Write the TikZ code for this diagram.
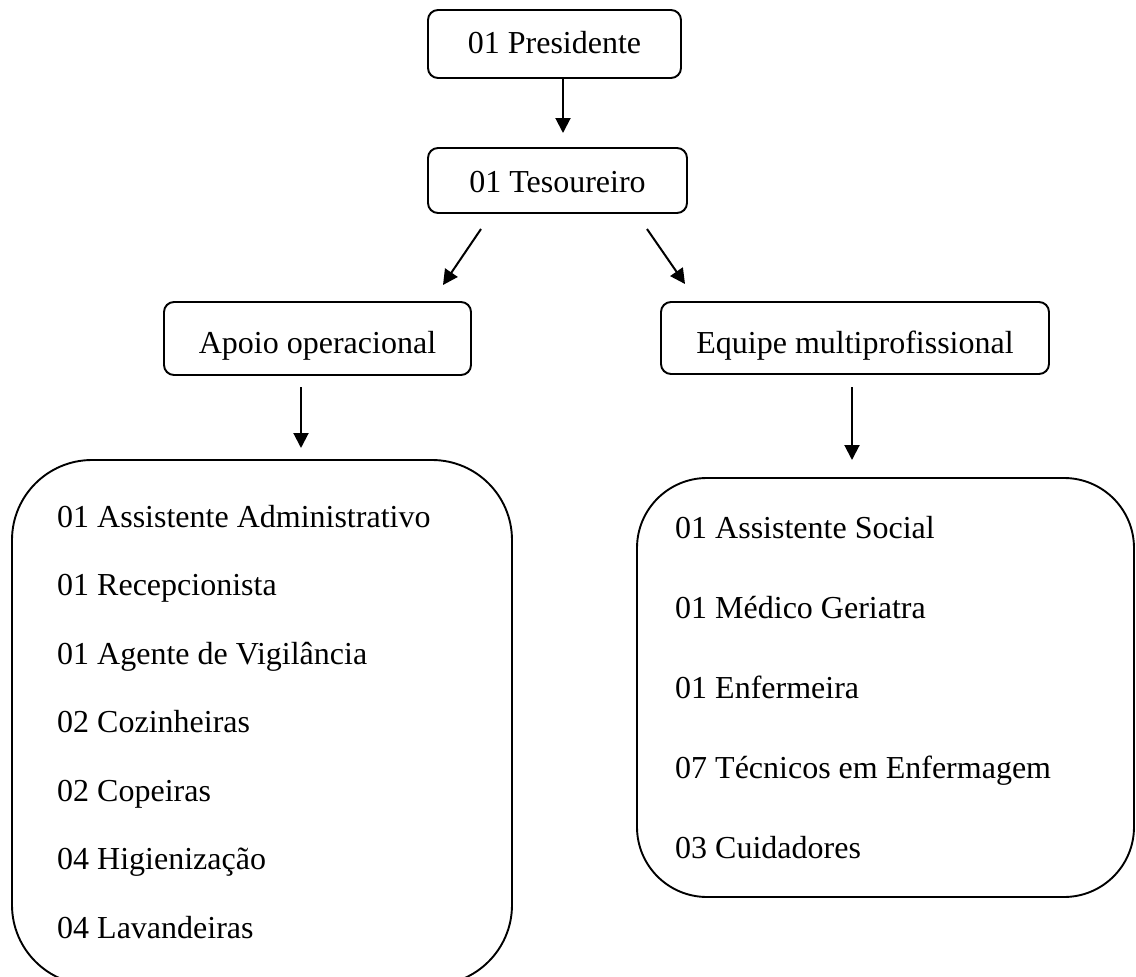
\documentclass[tikz,border=0pt]{standalone}
\usepackage{fontspec}
\setmainfont{Liberation Serif}
\usetikzlibrary{arrows.meta}
\begin{document}
\begin{tikzpicture}[x=1pt,y=-1pt,
  every node/.style={font=\fontsize{32}{38}\selectfont, inner sep=0pt},
  smallbox/.style={draw, line width=1.9pt, rounded corners=10pt},
  bigbox/.style={draw, line width=1.9pt},
  label/.style={anchor=base},
  item/.style={anchor=base west},
  conn/.style={line width=2pt, -{Triangle[length=15pt,width=15pt]}}]
\useasboundingbox (0,0) rectangle (1136,977);
\fill[white] (0,0) rectangle (1136,977);

% small boxes
\node[smallbox, minimum width=253pt, minimum height=68pt] (pres) at (554.5,44) {};
\node[label] (presT) at (554.5,53) {01 Presidente};
\node[smallbox, minimum width=259pt, minimum height=65pt] (tes) at (557.5,180.5) {};
\node[label] (tesT) at (557.5,192) {01 Tesoureiro};
\node[smallbox, minimum width=307pt, minimum height=73pt] (apoio) at (317.5,338.5) {};
\node[label] (apoioT) at (317.5,353) {Apoio operacional};
\node[smallbox, minimum width=388pt, minimum height=72pt] (equipe) at (855,338) {};
\node[label] (equipeT) at (855,353) {Equipe multiprofissional};

% big boxes
\node[bigbox, rounded corners=80pt, minimum width=500pt, minimum height=525pt] (left) at (262,722.5) {};
\node[bigbox, rounded corners=70pt, minimum width=497pt, minimum height=419pt] (right) at (885.5,687.5) {};

\node[item] (l1) at (57,527) {01 Assistente Administrativo};
\node[item] (l2) at (57,595.5) {01 Recepcionista};
\node[item] (l3) at (57,664) {01 Agente de Vigilância};
\node[item] (l4) at (57,732.5) {02 Cozinheiras};
\node[item] (l5) at (57,801) {02 Copeiras};
\node[item] (l6) at (57,869.5) {04 Higienização};
\node[item] (l7) at (57,938) {04 Lavandeiras};

\node[item] (r1) at (675,538) {01 Assistente Social};
\node[item] (r2) at (675,618) {01 Médico Geriatra};
\node[item] (r3) at (675,698) {01 Enfermeira};
\node[item] (r4) at (675,778) {07 Técnicos em Enfermagem};
\node[item] (r5) at (675,858) {03 Cuidadores};

% connector end points
\coordinate (a1s) at (563,78);
\coordinate (a1e) at (563,133);
\coordinate (a2s) at (481,229);
\coordinate (a2e) at (443,285);
\coordinate (a3s) at (647,229);
\coordinate (a3e) at (685,284);
\coordinate (a4s) at (301,387);
\coordinate (a4e) at (301,448);
\coordinate (a5s) at (852,387);
\coordinate (a5e) at (852,460);

\draw[conn] (a1s) -- (a1e);
\draw[conn] (a2s) -- (a2e);
\draw[conn] (a3s) -- (a3e);
\draw[conn] (a4s) -- (a4e);
\draw[conn] (a5s) -- (a5e);
\end{tikzpicture}
\end{document}
